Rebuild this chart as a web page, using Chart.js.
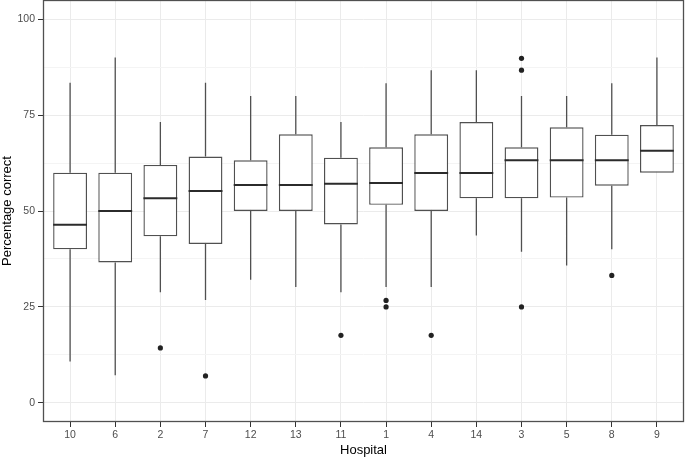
<!DOCTYPE html>
<html>
<head>
<meta charset="utf-8">
<script src="https://cdn.jsdelivr.net/npm/chart.js@4/dist/chart.umd.min.js"></script>
<style>
  html, body { margin: 0; padding: 0; background: #fff; }
</style>
</head>
<body>
<canvas id="chart" width="685" height="458"></canvas>
<script>
// hospitals in the order of the x axis
const hospitals = ['10', '6', '2', '7', '12', '13', '11', '1', '4', '14', '3', '5', '8', '9']

// box statistics per hospital (percentage correct)
const lowerWhisker  = [10.8,  7.2, 28.8, 26.8, 32.1, 30.2, 28.8, 30.2, 30.2, 43.6, 39.4, 35.8, 40.0, 60.0]
const lowerQuartile = [40.0, 36.6, 43.4, 41.4, 50.0, 50.0, 46.5, 51.6, 50.0, 53.3, 53.3, 53.5, 56.6, 60.0]
const medians       = [46.4, 50.0, 53.3, 55.2, 56.8, 56.8, 57.1, 57.3, 59.9, 59.9, 63.2, 63.2, 63.2, 65.7]
const upperQuartile = [60.0, 60.0, 62.0, 64.2, 63.2, 70.0, 63.9, 66.6, 70.0, 73.2, 66.6, 71.8, 69.9, 72.4]
const upperWhisker  = [83.4, 90.0, 73.2, 83.4, 80.0, 80.0, 73.2, 83.3, 86.7, 86.7, 80.0, 80.0, 83.3, 90.0]
const outliers = [[], [], [14.3], [7.0], [], [], [17.6], [26.7, 25.0], [17.6], [], [89.8, 86.7, 25.0], [], [33.2], []]

const yTickLabels = [0, 25, 50, 75, 100]

const boxWidth = 0.75
const tickFont = { family: 'Liberation Sans, Arial, sans-serif', size: 10.5 }
const titleFont = { family: 'Liberation Sans, Arial, sans-serif', size: 13 }

// build the datasets from the arrays above
let boxData = []
let whiskerData = []
let medianData = []
let outlierData = []
hospitals.forEach((h, i) => {
    const x = i + 1
    boxData.push({ x: x, y: [lowerQuartile[i], upperQuartile[i]] })
    whiskerData.push({ x: x, y: lowerWhisker[i] }, { x: x, y: lowerQuartile[i] }, { x: x, y: null })
    whiskerData.push({ x: x, y: upperQuartile[i] }, { x: x, y: upperWhisker[i] }, { x: x, y: null })
    medianData.push({ x: x - boxWidth / 2, y: medians[i] }, { x: x + boxWidth / 2, y: medians[i] }, { x: x, y: null })
    outliers[i].forEach(v => outlierData.push({ x: x, y: v }))
})

// minor grid lines sit halfway between the labelled ticks
let yGrid = []
yTickLabels.forEach((v, i) => {
    yGrid.push(v)
    if (i < yTickLabels.length - 1) yGrid.push((v + yTickLabels[i + 1]) / 2)
})

const panelBorder = {
    id: 'panelBorder',
    afterDatasetsDraw(chart) {
        const { ctx, chartArea } = chart
        const l = Math.round(chartArea.left) + 0.5
        const t = Math.round(chartArea.top) + 0.5
        const r = Math.round(chartArea.right) - 0.5
        const b = Math.round(chartArea.bottom) - 0.5
        ctx.save()
        ctx.strokeStyle = '#505050'
        ctx.lineWidth = 1.3
        ctx.strokeRect(l, t, r - l, b - t)
        ctx.restore()
    }
}

new Chart(document.getElementById('chart'), {
    type: 'bar',
    data: {
        datasets: [
            {
                type: 'line',
                data: medianData,
                borderColor: '#2b2b2b',
                borderWidth: 2,
                pointRadius: 0,
                spanGaps: false,
                order: 0
            },
            {
                type: 'scatter',
                data: outlierData,
                backgroundColor: '#222222',
                borderWidth: 0,
                pointRadius: 2.6,
                order: 1
            },
            {
                type: 'bar',
                data: boxData,
                backgroundColor: '#ffffff',
                borderColor: '#505050',
                borderWidth: 1.4,
                borderSkipped: false,
                categoryPercentage: boxWidth,
                barPercentage: 1,
                grouped: false,
                order: 2
            },
            {
                type: 'line',
                data: whiskerData,
                borderColor: '#505050',
                borderWidth: 1.3,
                pointRadius: 0,
                spanGaps: false,
                order: 3
            }
        ]
    },
    options: {
        responsive: false,
        animation: false,
        events: [],
        layout: { autoPadding: false, padding: { top: 0, right: 1, left: 0, bottom: 0 } },
        plugins: {
            legend: { display: false },
            tooltip: { enabled: false }
        },
        scales: {
            x: {
                type: 'linear',
                min: 0.4,
                max: 14.6,
                offset: false,
                afterBuildTicks: s => { s.ticks = hospitals.map((h, i) => ({ value: i + 1 })) },
                afterFit: s => { s.height = 36; s.paddingLeft = 0; s.paddingRight = 0 },
                ticks: {
                    autoSkip: false,
                    maxRotation: 0,
                    padding: 2,
                    color: '#4d4d4d',
                    font: tickFont,
                    callback: v => hospitals[Math.round(v) - 1]
                },
                grid: { offset: false, color: '#ebebeb', tickColor: '#333333', tickLength: 5 },
                border: { display: false },
                title: { display: true, text: 'Hospital', color: '#000000', font: titleFont, padding: { top: 0, bottom: 0 } }
            },
            y: {
                min: -5,
                max: 105,
                afterBuildTicks: s => { s.ticks = yGrid.map(v => ({ value: v })) },
                afterFit: s => { s.width = 43; s.paddingTop = 0; s.paddingBottom = 0 },
                ticks: {
                    padding: 3,
                    color: '#4d4d4d',
                    font: tickFont,
                    callback: v => yTickLabels.includes(v) ? v : ''
                },
                grid: {
                    color: c => yTickLabels.includes(c.tick.value) ? '#ebebeb' : '#f4f4f4',
                    tickColor: c => yTickLabels.includes(c.tick.value) ? '#333333' : 'rgba(0,0,0,0)',
                    tickLength: 5
                },
                border: { display: false },
                title: { display: true, text: 'Percentage correct', color: '#000000', font: titleFont, padding: { top: 0, bottom: 0 } }
            }
        }
    },
    plugins: [panelBorder]
})
</script>
</body>
</html>
